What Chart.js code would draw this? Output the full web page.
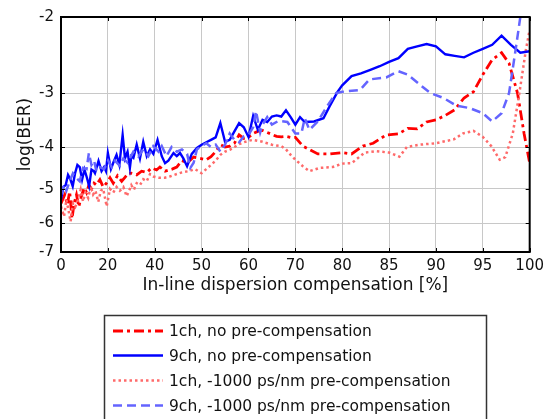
<!DOCTYPE html>
<html>
<head>
<meta charset="utf-8">
<script src="https://cdn.jsdelivr.net/npm/chart.js@4/dist/chart.umd.min.js"></script>
<style>
  html, body { margin: 0; padding: 0; background: #ffffff; }
  #wrap { width: 549px; height: 419px; position: relative; }
</style>
</head>
<body>
<div id="wrap"><canvas id="c" width="549" height="419"></canvas></div>
<script>
// ---------- tick labels ----------
const xTicks = [0, 20, 40, 50, 60, 70, 80, 85, 90, 95, 100];
const yTicks = [-7, -6, -5, -4, -3, -2];

// ---------- series labels ----------
const seriesNames = [
  '1ch, no pre-compensation',
  '9ch, no pre-compensation',
  '1ch, -1000 ps/nm pre-compensation',
  '9ch, -1000 ps/nm pre-compensation'
];

// ---------- 1ch, no pre-compensation ----------
const x1chNoPre = [0,1.6,2.7,3.7,4.7,5.6,6.6,7.6,8.7,9.9,10.9,11.9,13,14.1,15.1,16.6,18,19.4,20.9,22.3,24.1,25.9,27.3,28.7,30,32.3,34.4,36.6,38.7,40.4,41.1,42.2,43.7,44.7,45.8,47,48.3,49.7,51,52,53,54,55,56,57,58,59,60,61,62,63,64,65,66,67,68,69,70,
  71.6,74.8,77.3,80,81,82.2,83.3,84.7,86,87,88,89,90,91,92,93,94,95,96,97,97.8,98.7,99.4,100];
const y1chNoPre = [-5.4,-5.16,-5.44,-5.07,-5.86,-5.4,-5.16,-5.5,-5.2,-4.97,-5.1,-4.9,-5.0,-4.85,-4.9,-4.76,-4.95,-4.85,-4.71,-4.85,-4.66,-4.8,-4.7,-4.6,-4.6,-4.64,-4.55,-4.58,-4.47,-4.52,-4.45,-4.55,-4.5,-4.45,-4.3,-4.35,-4.22,-4.25,-4.28,-4.21,-4.1,-3.95,-4.0,-3.98,-3.92,-3.75,-3.82,
  -3.8,-3.72,-3.68,-3.66,-3.7,-3.74,-3.78,-3.79,-3.78,-3.8,-3.8,
  -3.98,-4.15,-4.15,-4.12,-4.15,-3.98,-3.92,-3.75,-3.73,-3.62,-3.63,-3.5,-3.46,-3.38,-3.28,-3.08,-2.98,-2.72,-2.51,-2.42,-2.56,-3.0,-3.72,-4.36];

// ---------- 9ch, no pre-compensation ----------
const x9chNoPre = [0,1,2,3,4,5,6,7,8,9,10,11,12,13,14,14.5,16,17.3,18.4,19.2,20,21.3,22.3,23.7,24.9,26.3,27.3,28.4,29.4,30,30.9,32.3,33.7,35.1,36.6,38,39.4,40.6,41.5,42.2,42.9,44,44.7,45.4,46.1,46.9,47.9,49,50,51,52,53,54,55,56,57,58,59,60,61,62,63,64,65,66,67,68,69,70,71,72,
  74,76,77.3,79,80,81,82,83,84,85,86,87,88,89,90,91,92,93,94,95,96,97,98,99,100];
const y9chNoPre = [-5.3,-4.95,-4.9,-4.64,-4.75,-4.93,-4.6,-4.4,-4.45,-4.76,-4.51,-4.7,-4.93,-4.51,-4.55,-4.6,-4.31,-4.55,-4.45,-4.55,-4.13,-4.5,-4.35,-4.17,-4.4,-3.75,-4.25,-4.1,-4.47,-4.2,-4.24,-3.95,-4.25,-3.89,-4.2,-4.05,-4.15,-3.85,-4.2,-4.36,-4.3,-4.13,-4.2,-4.13,-4.25,-4.43,-4.15,-4.02,-3.95,
  -3.9,-3.85,-3.8,-3.52,-3.89,-3.85,-3.68,-3.52,-3.6,
  -3.79,-3.39,-3.65,-3.46,-3.5,-3.4,-3.38,-3.4,-3.29,-3.41,
  -3.55,-3.41,-3.5,
  -3.49,-3.43,-3.22,-2.98,-2.88,-2.74,-2.7,-2.65,-2.6,-2.54,-2.49,-2.37,-2.34,-2.31,-2.34,-2.44,-2.46,-2.48,-2.42,-2.37,-2.32,-2.21,-2.32,-2.42,-2.40];

// ---------- 1ch, -1000 ps/nm pre-compensation ----------
const x1chPre = [0,1.3,2.3,3.3,4.1,5.1,6.1,7.3,8.4,9.4,10.4,11.6,12.7,13.7,14.7,15.9,17,18,19.5,20.9,22.3,23.7,25.1,26.6,28,29.4,30,31.1,32.3,33.7,35.1,36.6,38,39.4,40.8,42.2,43.2,44.7,45.8,47.2,48.6,50,51,52,53,54,55,56,57,58,59,60,61,62,63,64,65,66,67,68,69,70,
  71.6,73,75.2,78,80,81,82.4,83.6,85,86.1,86.9,88.3,90,91.9,92.9,94,95,95.9,96.8,97.4,98.2,98.9,99.6,100];
const y1chPre = [-5.49,-5.79,-5.3,-5.64,-5.95,-5.4,-5.5,-5.3,-5.02,-5.35,-5.1,-5.25,-4.93,-5.15,-5.05,-5.36,-5.05,-5.0,-5.49,-5.0,-5.1,-4.95,-5.05,-4.95,-5.2,-5.0,-4.9,-5.02,-4.85,-4.9,-4.75,-4.8,-4.62,-4.68,-4.71,-4.71,-4.68,-4.62,-4.58,-4.55,-4.5,-4.6,
  -4.5,-4.4,-4.3,-4.17,-4.1,-4.06,-4.0,-3.94,-3.9,
  -3.87,-3.85,-3.87,-3.89,-3.92,-3.95,-3.97,-3.98,-4.05,-4.17,-4.28,
  -4.43,-4.55,-4.47,-4.45,-4.37,-4.36,-4.12,-4.09,-4.12,-4.21,-4.0,-3.95,-3.92,-3.84,-3.72,-3.67,-3.79,-3.98,-4.28,-4.22,-3.72,-3.0,-2.38,-2.14];

// ---------- 9ch, -1000 ps/nm pre-compensation ----------
const x9chPre = [0,1.3,2.3,3.7,5.1,6.6,8,9.4,10.9,11.9,13,14.1,15.1,16.6,18.4,20.1,21.6,23,25.1,26.6,28.4,29.9,30.9,33,35.1,37.3,39.4,40.8,41.5,42.5,43.6,44.7,45.8,46.9,
  47.6,48.3,49,50,51,52,53,54,55,56,57,58,59,60,61,
  61.6,62.5,63,64,65,66.4,68.3,70,71.3,72,73,74.8,77,78.7,80,81.9,82.9,84.7,86,87,88.3,89.4,90.8,92.2,93.6,95,96,97,97.8,98.5,99,99.3];
const y9chPre = [-5.16,-4.9,-5.05,-4.8,-4.6,-4.72,-4.8,-4.47,-4.5,-4.13,-4.4,-4.3,-4.55,-4.45,-4.5,-4.3,-4.45,-4.3,-4.42,-4.25,-4.35,-4.2,-4.1,-4.21,-4.05,-4.2,-3.98,-4.1,-3.98,-4.2,-4.0,-4.1,-4.05,-4.15,
  -4.47,-4.35,-4.05,-3.98,-3.92,-4.0,-3.95,-4.1,-3.95,-3.72,-3.85,-3.9,-3.78,-3.75,-3.6,
  -3.3,-3.7,-3.55,-3.41,-3.55,-3.48,-3.5,-3.72,-3.72,-3.43,-3.65,-3.49,-3.19,-3.0,-2.98,-2.95,-2.79,-2.76,-2.67,-2.72,-2.87,-3.0,-3.08,-3.21,-3.25,-3.34,-3.49,-3.34,-3.0,-2.38,-2.0,-1.9];

// ---------- custom scales ----------
class BreakScale extends Chart.LinearScale {
  static id = 'xbreak';
  static defaults = Chart.LinearScale.defaults;
  buildTicks() { return xTicks.map(v => ({ value: v })); }
  getPixelForValue(v) {
    const t = xTicks; let i = 0;
    while (i < t.length - 2 && v > t[i + 1]) i++;
    const d = (i + (v - t[i]) / (t[i + 1] - t[i])) / (t.length - 1);
    return this.getPixelForDecimal(d);
  }
  getValueForPixel(p) {
    const t = xTicks; const idx = this.getDecimalForPixel(p) * (t.length - 1);
    const i = Math.max(0, Math.min(t.length - 2, Math.floor(idx)));
    return t[i] + (idx - i) * (t[i + 1] - t[i]);
  }
}
class NegLogScale extends Chart.LinearScale {
  static id = 'neglog';
  static defaults = Chart.LinearScale.defaults;
  buildTicks() { return yTicks.map(v => ({ value: v })); }
  getPixelForValue(v) {
    const lo = Math.log10(-yTicks[0]), hi = Math.log10(-yTicks[yTicks.length - 1]);
    return this.getPixelForDecimal((lo - Math.log10(-v)) / (lo - hi));
  }
  getValueForPixel(p) {
    const lo = Math.log10(-yTicks[0]), hi = Math.log10(-yTicks[yTicks.length - 1]);
    return -Math.pow(10, lo - this.getDecimalForPixel(p) * (lo - hi));
  }
}
Chart.register(BreakScale, NegLogScale);

const toPts = (xs, ys) => xs.map((x, i) => ({ x: x, y: ys[i] }));

const datasets = [
  { label: seriesNames[0], data: toPts(x1chNoPre, y1chNoPre), borderColor: '#ff0000', borderWidth: 2.8, borderDash: [10, 4, 3, 4] },
  { label: seriesNames[1], data: toPts(x9chNoPre, y9chNoPre), borderColor: '#0000ff', borderWidth: 2.4, borderDash: [] },
  { label: seriesNames[2], data: toPts(x1chPre, y1chPre), borderColor: '#ff6a6a', borderWidth: 2.5, borderDash: [2.5, 3] },
  { label: seriesNames[3], data: toPts(x9chPre, y9chPre), borderColor: '#6464ff', borderWidth: 2.5, borderDash: [9, 5] }
].map(d => Object.assign(d, { pointRadius: 0, tension: 0, fill: false }));

// draw order: light curves first so strong colors sit on top
const drawOrder = [3, 1, 2, 0];
datasets.forEach((d, i) => { d.order = drawOrder[i]; });

const framePlugin = {
  id: 'frame',
  afterDatasetsDraw(chart) {
    const { ctx, chartArea: a, scales } = chart;
    ctx.save();
    ctx.strokeStyle = '#000';
    ctx.lineWidth = 1;
    ctx.beginPath();
    scales.x.ticks.forEach(t => {
      const px = Math.round(scales.x.getPixelForValue(t.value)) + 0.5;
      ctx.moveTo(px, a.top); ctx.lineTo(px, a.top + 4);
      ctx.moveTo(px, a.bottom); ctx.lineTo(px, a.bottom - 4);
    });
    scales.y.ticks.forEach(t => {
      const py = Math.round(scales.y.getPixelForValue(t.value)) + 0.5;
      ctx.moveTo(a.left, py); ctx.lineTo(a.left + 4, py);
      ctx.moveTo(a.right, py); ctx.lineTo(a.right - 4, py);
    });
    ctx.stroke();
    ctx.lineWidth = 2;
    ctx.strokeRect(a.left, a.top, a.right - a.left, a.bottom - a.top);
    ctx.restore();
  }
};

const legendBoxPlugin = {
  id: 'legendBox',
  afterDraw(chart) {
    const { ctx } = chart;
    ctx.save();
    ctx.fillStyle = '#ffffff';
    ctx.fillRect(104, 315, 383, 110);
    ctx.strokeStyle = '#333';
    ctx.lineWidth = 1.5;
    ctx.strokeRect(104.5, 315.5, 382, 110);
    ctx.font = '15.5px "DejaVu Sans"';
    ctx.textBaseline = 'middle';
    ctx.fillStyle = '#111';
    const rowY = [331, 355.5, 380.5, 405.5];
    chart.data.datasets.forEach((d, i) => {
      const y = rowY[i];
      ctx.beginPath();
      ctx.setLineDash(d.borderDash || []);
      ctx.strokeStyle = d.borderColor;
      ctx.lineWidth = d.borderWidth;
      ctx.moveTo(113, y); ctx.lineTo(163, y);
      ctx.stroke();
      ctx.setLineDash([]);
      ctx.fillText(d.label, 169, y + 1);
    });
    ctx.restore();
  }
};

new Chart(document.getElementById('c'), {
  type: 'line',
  data: { datasets: datasets },
  plugins: [framePlugin, legendBoxPlugin],
  options: {
    responsive: false,
    animation: false,
    devicePixelRatio: 1,
    layout: { padding: { left: 0, top: 17, right: 18, bottom: 119 } },
    plugins: { legend: { display: false }, tooltip: { enabled: false } },
    scales: {
      x: {
        type: 'xbreak', min: 0, max: 100,
        afterFit: s => { s.height = 48; },
        grid: { color: '#c8c8c8', lineWidth: 1, drawTicks: false },
        border: { display: false },
        ticks: { autoSkip: false, maxRotation: 0, padding: 5, color: '#111', font: { family: 'DejaVu Sans', size: 15 }, callback: v => String(v) },
        title: { display: true, text: 'In-line dispersion compensation [%]', color: '#111', font: { family: 'DejaVu Sans', size: 17 }, padding: { top: 0, bottom: 4 } }
      },
      y: {
        type: 'neglog', min: -7, max: -2,
        afterFit: s => { s.width = 61; },
        grid: { color: '#c8c8c8', lineWidth: 1, drawTicks: false },
        border: { display: false },
        ticks: { autoSkip: false, padding: 7, color: '#111', font: { family: 'DejaVu Sans', size: 15 }, callback: v => String(v) },
        title: { display: true, text: 'log(BER)', color: '#111', font: { family: 'DejaVu Sans', size: 17 }, padding: { top: 15, bottom: 0 } }
      }
    }
  }
});
</script>
</body>
</html>
